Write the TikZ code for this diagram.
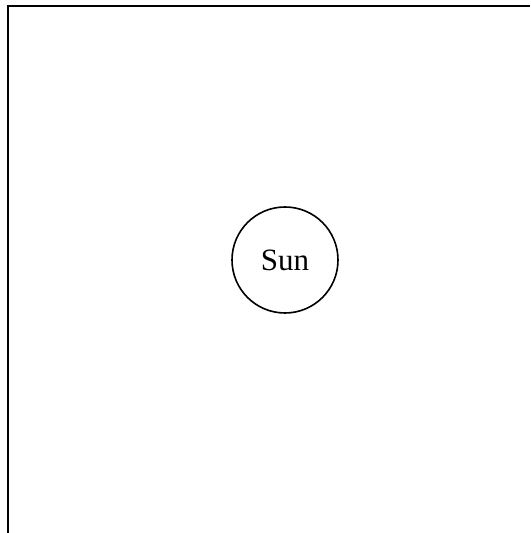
\documentclass[tikz,border=0pt]{standalone}
\usepackage{fontspec}
\setmainfont{Liberation Serif}
\usetikzlibrary{positioning}

\begin{document}
\begin{tikzpicture}[
        x=0.5pt, y=0.5pt,
        body/.style={draw, circle, line width=0.8pt, minimum size=53pt, inner sep=0pt, font=\fontsize{15.5}{18}\selectfont},
        frame/.style={draw, line width=1pt}
    ]
        \useasboundingbox (0,0) rectangle (530,533);

        % Frame
        \coordinate (fbl) at (8,0);
        \coordinate (ftl) at (8,527);
        \coordinate (ftr) at (530,527);
        \draw [frame] (fbl) -- (ftl) -- (ftr);

        % Sun
        \node (sun) [body] at (285,273) {Sun};
    \end{tikzpicture}
\end{document}
